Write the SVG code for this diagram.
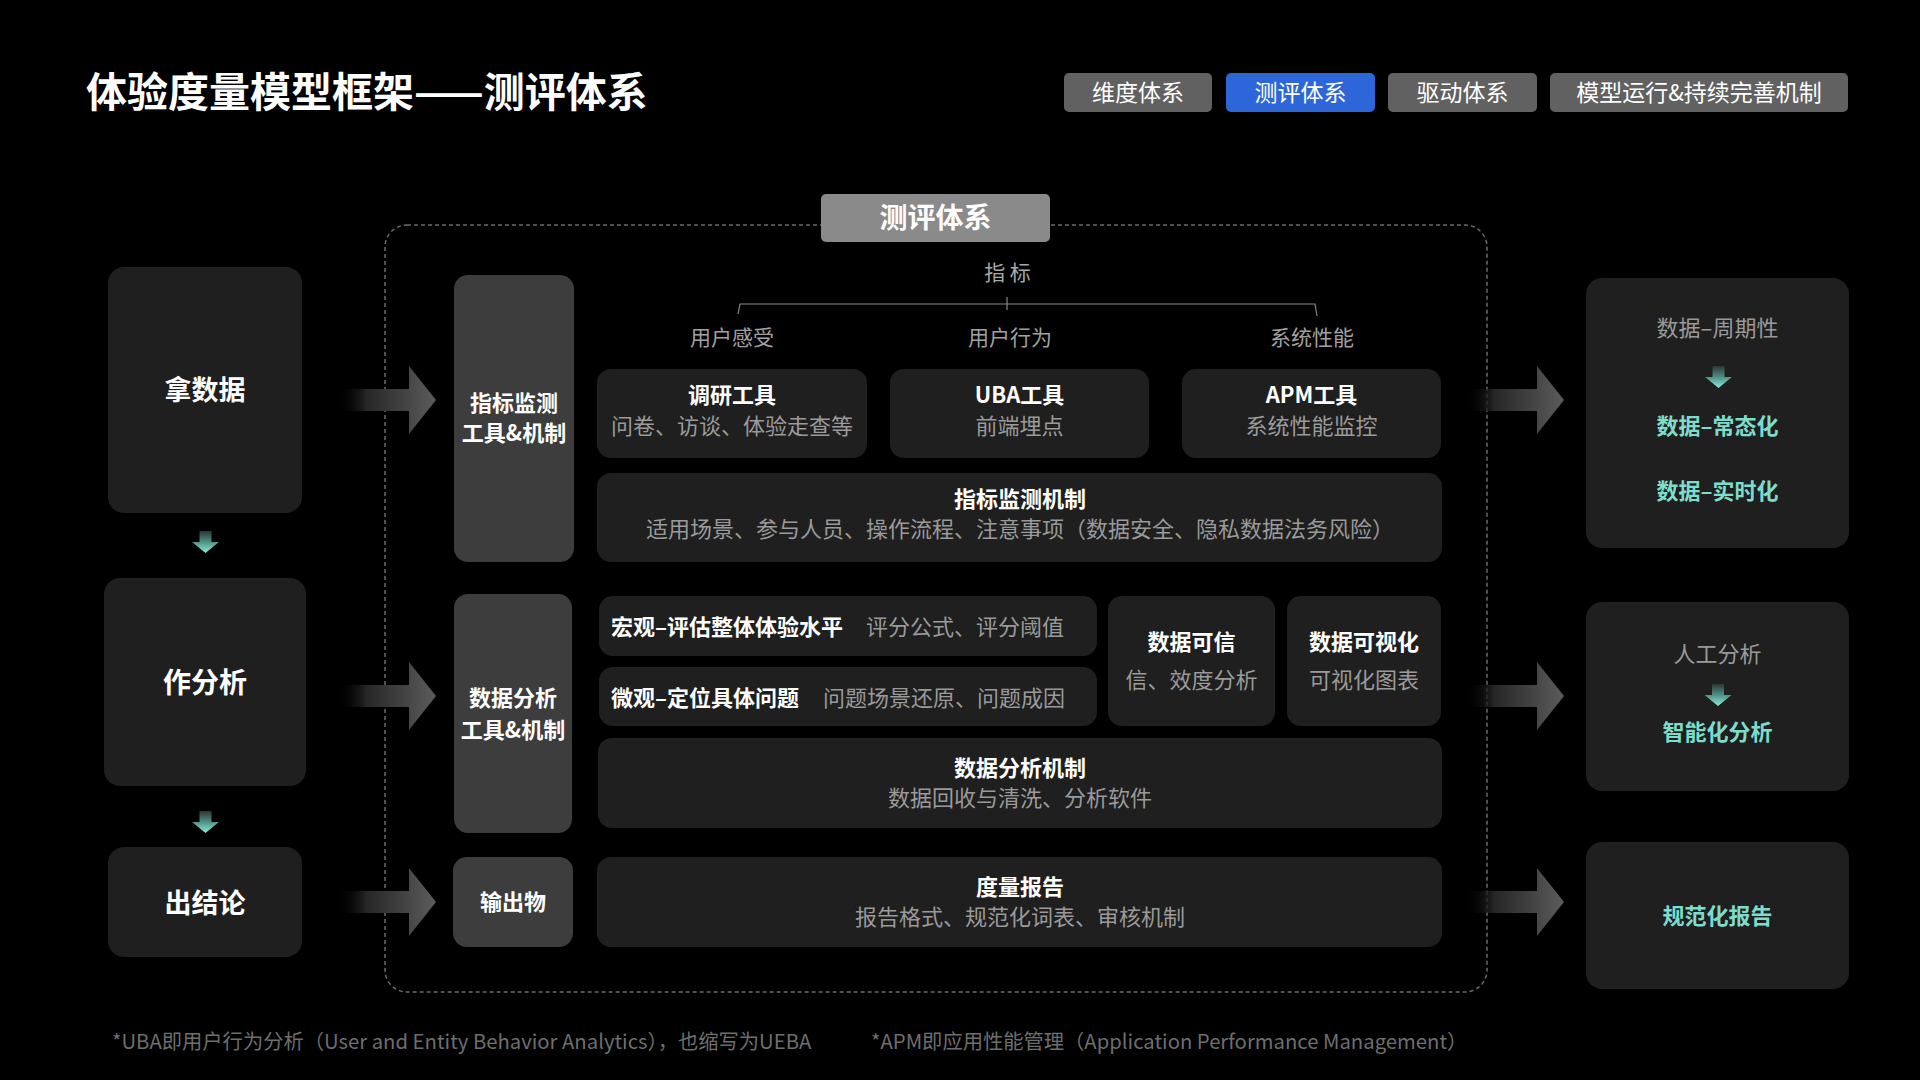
<svg xmlns="http://www.w3.org/2000/svg" width="1920" height="1080" viewBox="0 0 1920 1080">
<defs>
<style>
text{font-family:"Noto Sans CJK SC","Noto Sans",sans-serif;}
.w{fill:#ffffff;}
.g{fill:#9a9a9a;}
.b{font-weight:700;}
.m{text-anchor:middle;}
.t{fill:#7ddccb;font-weight:700;}
.dark{fill:#1f1f1f;}
.mid{fill:#3d3d3d;}
.tab{fill:#616161;}
.ra{fill:url(#ag);}
.da{fill:url(#tg);}
</style>
<linearGradient id="ag" x1="0" y1="0" x2="1" y2="0">
<stop offset="0" stop-color="#000000" stop-opacity="0"/>
<stop offset="0.3" stop-color="#262626"/>
<stop offset="1" stop-color="#5c5c5c"/>
</linearGradient>
<linearGradient id="tg" x1="0" y1="0" x2="0" y2="1">
<stop offset="0" stop-color="#2c3634"/>
<stop offset="0.5" stop-color="#4f9186"/>
<stop offset="1" stop-color="#88eedb"/>
</linearGradient>
</defs>
<rect x="0" y="0" width="1920" height="1080" fill="#000000"/>

<g id="title">
<text x="86" y="107" class="w b" font-size="41">体验度量模型框架——测评体系</text>
</g>

<g id="tabs" font-size="23">
<g id="tab-weidu"><rect x="1064" y="73" width="148" height="39" rx="5" class="tab"/><text x="1138" y="101" class="w m">维度体系</text></g>
<g id="tab-ceping"><rect x="1226" y="73" width="149" height="39" rx="5" fill="#2c66d8"/><text x="1300.5" y="101" class="w m">测评体系</text></g>
<g id="tab-qudong"><rect x="1388" y="73" width="149" height="39" rx="5" class="tab"/><text x="1462.5" y="101" class="w m">驱动体系</text></g>
<g id="tab-moxing"><rect x="1550" y="73" width="298" height="39" rx="5" class="tab"/><text x="1699" y="101" class="w m">模型运行&amp;持续完善机制</text></g>
</g>

<g id="container">
<rect x="385" y="225" width="1102" height="767" rx="22" fill="none" stroke="#6b6b6b" stroke-width="1.5" stroke-dasharray="4 3"/>
</g>
<g id="header">
<rect x="821" y="194" width="229" height="48" rx="5" fill="#8a8a8a"/>
<text x="935.5" y="228" class="w b m" font-size="28">测评体系</text>
</g>

<g id="zhibiao">
<text x="1007.5" y="279.5" class="m" fill="#a8a8a8" font-size="21">指 标</text>
<text x="732" y="345" class="m" fill="#a0a0a0" font-size="21">用户感受</text>
<text x="1010" y="345" class="m" fill="#a0a0a0" font-size="21">用户行为</text>
<text x="1312" y="345" class="m" fill="#a0a0a0" font-size="21">系统性能</text>
</g>

<g id="left-nadata"><rect x="108" y="267" width="194" height="246" rx="16" class="dark"/><text x="205" y="400" class="w b m" font-size="27">拿数据</text></g>
<g id="left-fenxi"><rect x="104" y="578" width="202" height="208" rx="16" class="dark"/><text x="205" y="693" class="w b m" font-size="28">作分析</text></g>
<g id="left-jielun"><rect x="108" y="847" width="194" height="110" rx="16" class="dark"/><text x="205" y="913" class="w b m" font-size="27">出结论</text></g>

<g id="v-jiance"><rect x="454" y="275" width="120" height="287" rx="14" class="mid"/><text x="514" y="411" class="w b m" font-size="22">指标监测</text><text x="514" y="441" class="w b m" font-size="22">工具&amp;机制</text></g>
<g id="v-fenxi"><rect x="454" y="594" width="118" height="239" rx="14" class="mid"/><text x="513" y="706" class="w b m" font-size="22">数据分析</text><text x="513" y="738" class="w b m" font-size="22">工具&amp;机制</text></g>
<g id="v-shuchu"><rect x="453" y="857" width="120" height="90" rx="14" class="mid"/><text x="513" y="910" class="w b m" font-size="22">输出物</text></g>

<g id="n-diaoyan"><rect x="597" y="369" width="270" height="89" rx="14" class="dark"/><text x="732" y="403" class="w b m" font-size="22">调研工具</text><text x="732" y="434" class="g m" font-size="22">问卷、访谈、体验走查等</text></g>
<g id="n-uba"><rect x="890" y="369" width="259" height="89" rx="14" class="dark"/><text x="1019.5" y="403" class="w b m" font-size="22">UBA工具</text><text x="1019.5" y="434" class="g m" font-size="22">前端埋点</text></g>
<g id="n-apm"><rect x="1182" y="369" width="259" height="89" rx="14" class="dark"/><text x="1311.5" y="403" class="w b m" font-size="22">APM工具</text><text x="1311.5" y="434" class="g m" font-size="22">系统性能监控</text></g>
<g id="n-jiancejizhi"><rect x="597" y="473" width="845" height="89" rx="14" class="dark"/><text x="1020" y="507" class="w b m" font-size="22">指标监测机制</text><text x="1020" y="537" class="g m" font-size="22">适用场景、参与人员、操作流程、注意事项（数据安全、隐私数据法务风险）</text></g>

<g id="n-hongguan"><rect x="599" y="596" width="498" height="60" rx="14" class="dark"/><text x="611" y="635" class="w b" font-size="22">宏观–评估整体体验水平</text><text x="866" y="635" class="g" font-size="22">评分公式、评分阈值</text></g>
<g id="n-weiguan"><rect x="599" y="667" width="498" height="59" rx="14" class="dark"/><text x="611" y="706" class="w b" font-size="22">微观–定位具体问题</text><text x="823" y="706" class="g" font-size="22">问题场景还原、问题成因</text></g>
<g id="n-kexin"><rect x="1108" y="596" width="167" height="130" rx="14" class="dark"/><text x="1191.5" y="650" class="w b m" font-size="22">数据可信</text><text x="1191.5" y="688" class="g m" font-size="22">信、效度分析</text></g>
<g id="n-keshihua"><rect x="1287" y="596" width="154" height="130" rx="14" class="dark"/><text x="1364" y="650" class="w b m" font-size="22">数据可视化</text><text x="1364" y="688" class="g m" font-size="22">可视化图表</text></g>
<g id="n-fenxijizhi"><rect x="598" y="738" width="844" height="90" rx="14" class="dark"/><text x="1020" y="776" class="w b m" font-size="22">数据分析机制</text><text x="1020" y="806" class="g m" font-size="22">数据回收与清洗、分析软件</text></g>

<g id="n-baogao"><rect x="597" y="857" width="845" height="90" rx="14" class="dark"/><text x="1020" y="895" class="w b m" font-size="22">度量报告</text><text x="1020" y="925" class="g m" font-size="22">报告格式、规范化词表、审核机制</text></g>

<g id="r-data"><rect x="1586" y="278" width="263" height="270" rx="16" class="dark"/><text x="1717.5" y="336" class="g m" font-size="22">数据–周期性</text><text x="1717.5" y="434" class="t m" font-size="22">数据–常态化</text><text x="1717.5" y="499" class="t m" font-size="22">数据–实时化</text></g>
<g id="r-analysis"><rect x="1586" y="602" width="263" height="189" rx="16" class="dark"/><text x="1717.5" y="662" class="g m" font-size="22">人工分析</text><text x="1717.5" y="740" class="t m" font-size="22">智能化分析</text></g>
<g id="r-report"><rect x="1586" y="842" width="263" height="147" rx="16" class="dark"/><text x="1717.5" y="924" class="t m" font-size="22">规范化报告</text></g>

<g id="connectors">
<path d="M738,314 L740,304 L1315,304 L1317,316" fill="none" stroke="#888888" stroke-width="1.2"/>
<path d="M1007,297 V310" fill="none" stroke="#888888" stroke-width="1.2"/>
<path class="ra" d="M337,389 H409 V366 L436,400 L409,434 V411 H337 Z"/>
<path class="ra" d="M337,685 H409 V662 L436,696 L409,730 V707 H337 Z"/>
<path class="ra" d="M337,891 H409 V868 L436,902 L409,936 V913 H337 Z"/>
<path class="ra" d="M1465,389 H1537 V366 L1564,400 L1537,434 V411 H1465 Z"/>
<path class="ra" d="M1465,685 H1537 V662 L1564,696 L1537,730 V707 H1465 Z"/>
<path class="ra" d="M1465,891 H1537 V868 L1564,902 L1537,936 V913 H1465 Z"/>
<path class="da" d="M199.5,531 H211.5 V542 H219 L205.5,553 L192,542 H199.5 Z"/>
<path class="da" d="M199.5,811 H211.5 V822 H219 L205.5,833 L192,822 H199.5 Z"/>
<path class="da" d="M1712.5,366 H1724.5 V377 H1732 L1718.5,388 L1705,377 H1712.5 Z"/>
<path class="da" d="M1712,684 H1724 V695 H1731.5 L1718,706 L1704.5,695 H1712 Z"/>
</g>

<g id="footnotes" fill="#6e6e6e" font-size="20.3">
<text x="112" y="1049">*UBA即用户行为分析（User and Entity Behavior Analytics），也缩写为UEBA</text>
<text x="871" y="1049">*APM即应用性能管理（Application Performance Management）</text>
</g>
</svg>
